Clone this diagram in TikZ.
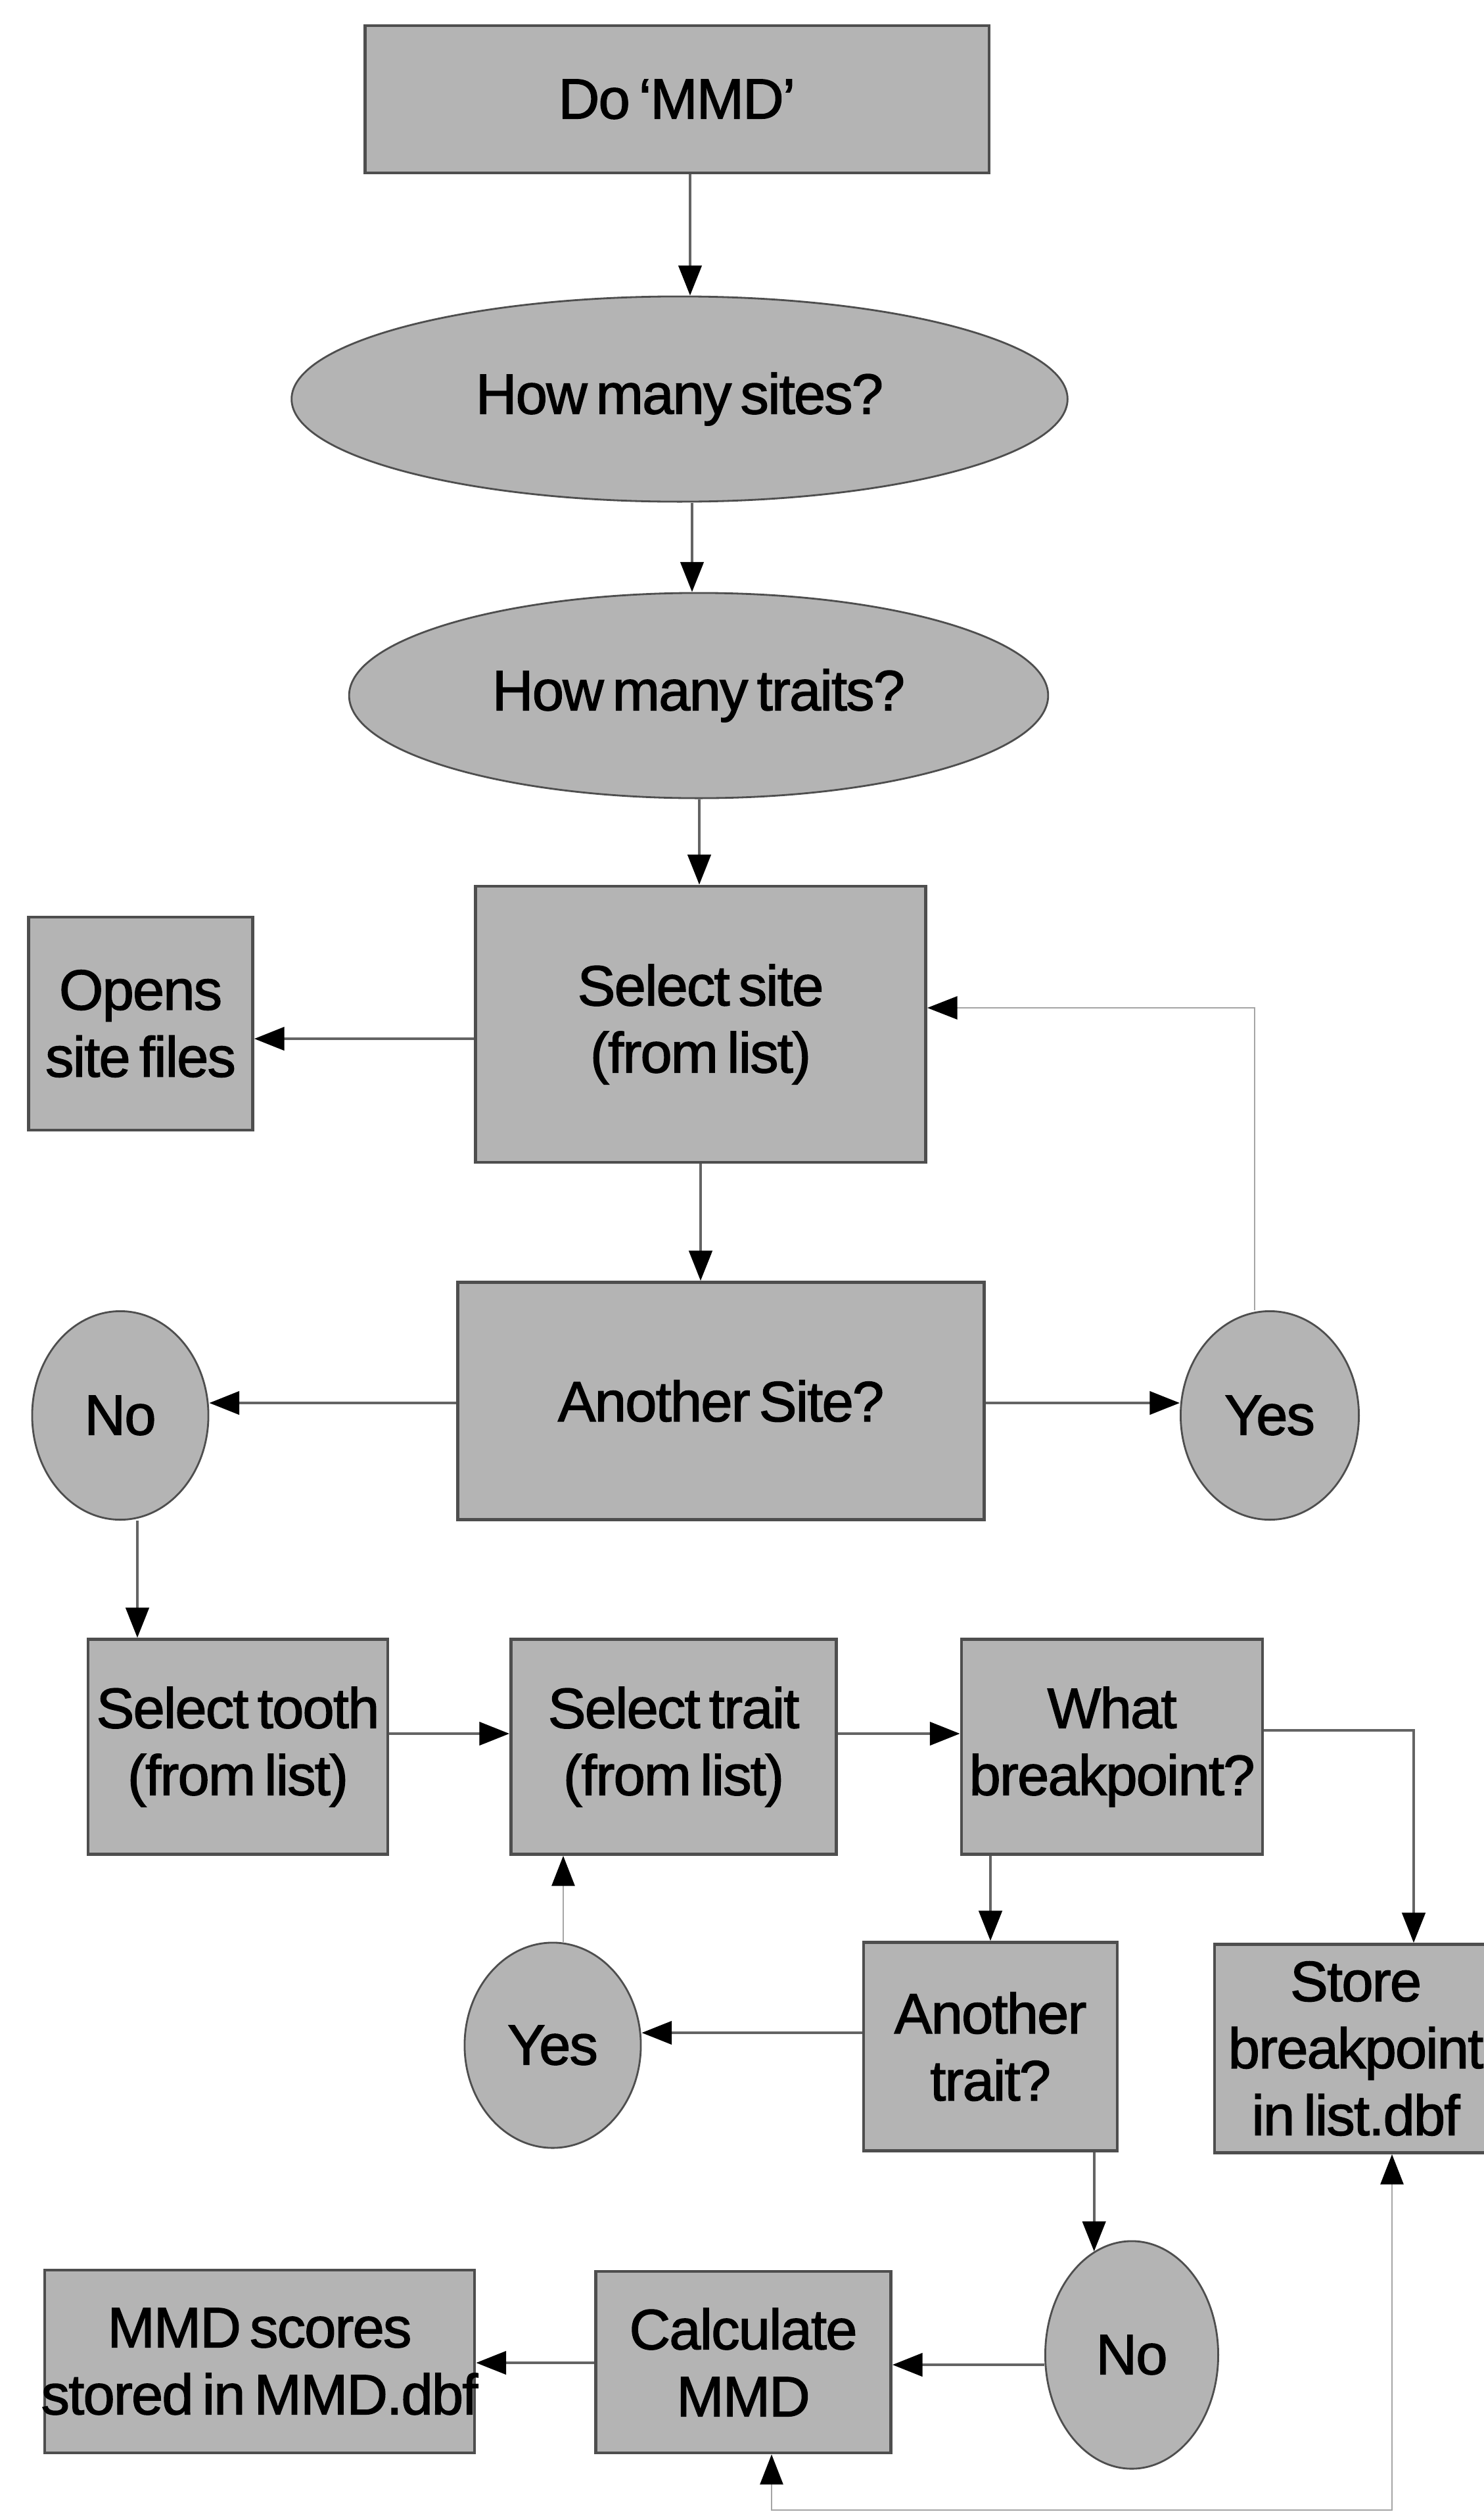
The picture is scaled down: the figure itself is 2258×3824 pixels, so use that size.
\documentclass[tikz,border=0pt]{standalone}
\usepackage{fontspec}
\setmainfont{Liberation Sans}[WordSpace=0.6,LetterSpace=-2,FakeBold=1.6]
\usetikzlibrary{arrows.meta,shapes.geometric}
\definecolor{boxfill}{RGB}{180,180,180}
\definecolor{boxline}{RGB}{78,78,78}
\definecolor{linkcol}{RGB}{100,100,100}
\definecolor{backcol}{RGB}{165,165,165}

\begin{document}
\begin{tikzpicture}[x=0.01cm,y=-0.01cm,
  font=\fontsize{24.6}{29}\selectfont,
  stepbox/.style={draw=boxline, line width=1.3pt, fill=boxfill, rectangle,
    inner sep=0pt, align=center},
  oval/.style={draw=boxline, line width=0.8pt, fill=boxfill, ellipse,
    inner sep=0pt, align=center},
  tiphead/.style={Triangle[length=13pt,width=10pt,color=black]},
  link/.style={-{Triangle[length=13pt,width=10pt,color=black]}, draw=linkcol, line width=1.2pt},
  backlink/.style={-{Triangle[length=13pt,width=10pt,color=black]}, draw=backcol, line width=0.6pt},
  backboth/.style={{Triangle[length=13pt,width=10pt,color=black]}-{Triangle[length=13pt,width=10pt,color=black]},
    draw=backcol, line width=0.6pt},
]
% page frame
\useasboundingbox (0,0) rectangle (2258,3824);
\clip (0,0) rectangle (2258,3824);
\fill[white] (0,0) rectangle (2258,3824);

% ---- nodes ----
\node[stepbox, minimum width=9.49cm, minimum height=2.24cm] (start) at (1030,151) {Do ‘MMD’};
\node[oval, minimum width=11.8cm, minimum height=3.12cm] (sites) at (1034,607) {How many sites?};
\node[oval, minimum width=10.63cm, minimum height=3.12cm] (traits) at (1063,1058) {How many traits?};
\node[stepbox, minimum width=6.85cm, minimum height=4.2cm] (selsite) at (1066,1558) {Select site\\(from list)};
\node[stepbox, minimum width=3.41cm, minimum height=3.24cm] (opens) at (214,1557) {Opens\\site files};
\node[stepbox, minimum width=8cm, minimum height=3.61cm] (anosite) at (1097,2131) {Another Site?};
\node[oval, minimum width=2.68cm, minimum height=3.17cm] (no1) at (183,2153) {No};
\node[oval, minimum width=2.71cm, minimum height=3.17cm] (yes1) at (1932,2153) {Yes};
\node[stepbox, minimum width=4.56cm, minimum height=3.27cm] (tooth) at (362,2657) {\makebox[0pt]{Select tooth}\\(from list)};
\node[stepbox, minimum width=4.95cm, minimum height=3.27cm] (trait) at (1025,2657) {Select trait\\(from list)};
\node[stepbox, minimum width=4.58cm, minimum height=3.27cm] (bpoint) at (1692,2657) {What\\breakpoint?};
\node[stepbox, minimum width=3.86cm, minimum height=3.17cm] (anotrait) at (1507,3113) {Another\\trait?};
\node[stepbox, minimum width=4.3cm, minimum height=3.17cm] (store) at (2063,3116) {Store\\breakpoint\\in list.dbf};
\node[oval, minimum width=2.68cm, minimum height=3.12cm] (yes2) at (841,3111) {Yes};
\node[oval, minimum width=2.63cm, minimum height=3.46cm] (no2) at (1722,3582) {No};
\node[stepbox, minimum width=4.49cm, minimum height=2.76cm] (calc) at (1131,3593) {Calculate\\MMD};
\node[stepbox, minimum width=6.54cm, minimum height=2.78cm] (scores) at (395,3592) {MMD scores\\\makebox[0pt]{stored in MMD.dbf}};

% ---- guide coordinates for connector lines ----
\coordinate (v1) at (1050,0);
\coordinate (v2) at (1053,0);
\coordinate (v3) at (1064,0);
\coordinate (v4) at (1066,0);
\coordinate (h1) at (0,1580);
\coordinate (h2) at (0,2134);
\coordinate (fb1) at (1909,1533);
\coordinate (v5) at (209,0);
\coordinate (h3) at (0,2637);
\coordinate (h4) at (0,2632);
\coordinate (v6) at (2151,0);
\coordinate (h5) at (0,3092);
\coordinate (v7) at (857,0);
\coordinate (h6) at (0,3597);
\coordinate (h7) at (0,3594);
\coordinate (v8) at (1174,0);
\coordinate (low) at (2118,3818);

% ---- main flow ----
\draw[link] (start.south -| v1) -- (sites.north -| v1);
\draw[link] (sites.south -| v2) -- (traits.north -| v2);
\draw[link] (traits.south -| v3) -- (selsite.north -| v3);
\draw[link] (selsite.west |- h1) -- (opens.east |- h1);
\draw[link] (selsite.south -| v4) -- (anosite.north -| v4);
\draw[link] (anosite.west |- h2) -- (no1.east |- h2);
\draw[link] (anosite.east |- h2) -- (yes1.west |- h2);
\draw[backlink] (yes1.north -| fb1) |- (selsite.east |- fb1);
\draw[link] (no1.south -| v5) -- (tooth.north -| v5);
\draw[link] (tooth.east |- h3) -- (trait.west |- h3);
\draw[link] (trait.east |- h3) -- (bpoint.west |- h3);
\draw[link] (bpoint.east |- h4) -| (store.north -| v6);
\draw[link] (bpoint.south -| anotrait.north) -- (anotrait.north);
\draw[link] (anotrait.west |- h5) -- (yes2.east |- h5);
\draw[backlink] (yes2.north -| v7) -- (trait.south -| v7);
\draw[link] (anotrait.south -| no2.110) -- (no2.110);
\draw[link] (no2.west |- h6) -- (calc.east |- h6);
\draw[link] (calc.west |- h7) -- (scores.east |- h7);
\draw[backboth] (calc.south -| v8) |- (low) -- (store.south -| low);
\end{tikzpicture}
\end{document}
